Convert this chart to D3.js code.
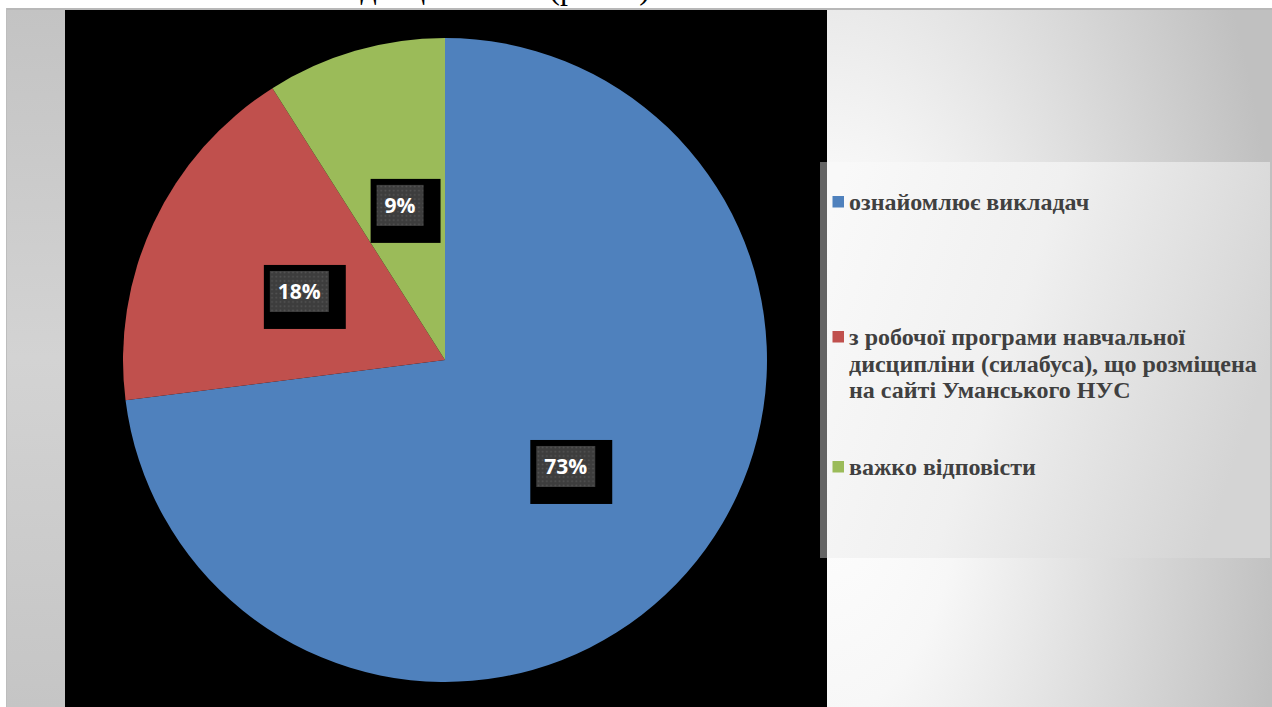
<!DOCTYPE html>
<html>
<head>
<meta charset="utf-8">
<script src="https://cdn.jsdelivr.net/npm/d3@7"></script>
<style>
  body { margin: 0; background: #fff; }
  svg { display: block; }
</style>
</head>
<body>
<script>
var w = 1272;
var h = 707;

// data
var categories = ["ознайомлює викладач",
                  "з робочої програми навчальної дисципліни (силабуса), що розміщена на сайті Уманського НУС",
                  "важко відповісти"];
var values = [73, 18, 9];
var colors = ["#4f81bd", "#c0504d", "#9bbb59"];
var titleText = "з дисципліною (рис. 3).";

var cx = 445, cy = 360, radius = 322;
var legendBase = [210, 345, 475];   // first-line baseline of each legend entry
var lineH = 26.5;
var legendFont = "24px";

var svg = d3.select("body").append("svg")
    .attr("width", w)
    .attr("height", h);

var defs = svg.append("defs");

// chart area fill: light near the plot edge, grey to the right
var bg = defs.append("radialGradient")
    .attr("id", "bg")
    .attr("gradientUnits", "userSpaceOnUse")
    .attr("cx", 827).attr("cy", 440).attr("r", 460)
    .attr("gradientTransform", "translate(827,440) scale(1,2) translate(-827,-440)");
bg.append("stop").attr("offset", "0%").attr("stop-color", "#ffffff");
bg.append("stop").attr("offset", "30%").attr("stop-color", "#f7f7f7");
bg.append("stop").attr("offset", "100%").attr("stop-color", "#c0c0c0");

var side = defs.append("linearGradient")
    .attr("id", "side")
    .attr("x1", 0).attr("y1", 0).attr("x2", 0).attr("y2", 1);
side.append("stop").attr("offset", "0%").attr("stop-color", "#c3c3c3");
side.append("stop").attr("offset", "50%").attr("stop-color", "#d3d3d3");
side.append("stop").attr("offset", "100%").attr("stop-color", "#c5c5c5");

var lg = defs.append("linearGradient")
    .attr("id", "lg")
    .attr("x1", 0).attr("y1", 0.2).attr("x2", 1).attr("y2", 0.5);
lg.append("stop").attr("offset", "0%").attr("stop-color", "#f9f9f9");
lg.append("stop").attr("offset", "45%").attr("stop-color", "#f0f0f0");
lg.append("stop").attr("offset", "100%").attr("stop-color", "#d4d4d4");

var dots = defs.append("pattern")
    .attr("id", "dots")
    .attr("patternUnits", "userSpaceOnUse")
    .attr("width", 4.2).attr("height", 4.2);
dots.append("rect").attr("width", 4.2).attr("height", 4.2).attr("fill", "#3d3d3d");
dots.append("circle").attr("cx", 2.1).attr("cy", 2.1).attr("r", 0.9).attr("fill", "#555");

// title (mostly hidden behind the chart)
svg.append("text")
    .attr("x", 658)
    .attr("y", -1)
    .attr("text-anchor", "end")
    .attr("font-family", "'Liberation Serif', 'Times New Roman', serif")
    .attr("font-size", "32px")
    .attr("fill", "#000")
    .text(titleText);

// chart area
svg.append("rect")
    .attr("x", 6).attr("y", 8)
    .attr("width", w - 6).attr("height", h - 8)
    .attr("fill", "url(#bg)");
svg.append("rect")
    .attr("x", 6).attr("y", 8)
    .attr("width", 60).attr("height", h - 8)
    .attr("fill", "url(#side)");
svg.append("line")
    .attr("x1", 6).attr("x2", w).attr("y1", 9).attr("y2", 9)
    .attr("stroke", "#b8b8b8").attr("stroke-width", 2);
svg.append("line")
    .attr("x1", 6.5).attr("x2", 6.5).attr("y1", 8).attr("y2", h)
    .attr("stroke", "#bdbdbd").attr("stroke-width", 1);

// plot area
svg.append("rect")
    .attr("x", 65).attr("y", 10)
    .attr("width", 762).attr("height", h - 10)
    .attr("fill", "#000");

var pie = d3.pie().sort(null).value(function(d) { return d; });
var arc = d3.arc().innerRadius(0).outerRadius(radius);
var arcs = pie(values);

var g = svg.append("g").attr("transform", "translate(" + cx + "," + cy + ")");

g.selectAll("path")
   .data(arcs)
   .enter()
   .append("path")
   .attr("d", arc)
   .attr("fill", function(d, i) { return colors[i]; });

// labels
var lab = g.selectAll("g.lab")
   .data(arcs)
   .enter()
   .append("g")
   .attr("class", "lab")
   .attr("transform", function(d) { return "translate(" + arc.centroid(d) + ")"; });

lab.each(function(d) {
    var el = d3.select(this);
    var t = el.append("text")
        .attr("text-anchor", "middle")
        .attr("dy", "0.36em")
        .attr("font-family", "'Open Sans', sans-serif")
        .attr("font-weight", "bold")
        .attr("font-size", "21px")
        .attr("fill", "#fff")
        .text(d.value + "%");
    var tw = t.node().getComputedTextLength();
    var bw = tw + 16, bh = 41;
    el.insert("rect", "text")
        .attr("x", -bw / 2 - 6).attr("y", -bh / 2 - 6)
        .attr("width", bw + 23).attr("height", bh + 23)
        .attr("fill", "#000");
    el.insert("rect", "text")
        .attr("x", -bw / 2).attr("y", -bh / 2)
        .attr("width", bw).attr("height", bh)
        .attr("fill", "url(#dots)");
});

// legend
svg.append("rect")
    .attr("x", 820).attr("y", 162)
    .attr("width", 450).attr("height", 396)
    .attr("fill", "url(#lg)");
svg.append("rect")
    .attr("x", 820).attr("y", 162)
    .attr("width", 7).attr("height", 396)
    .attr("fill", "#646464");

var legend = svg.selectAll("g.leg")
   .data(categories)
   .enter()
   .append("g")
   .attr("class", "leg");

legend.append("rect")
   .attr("x", 832.5)
   .attr("y", function(d, i) { return legendBase[i] - 14; })
   .attr("width", 11.5).attr("height", 11.5)
   .attr("fill", function(d, i) { return colors[i]; });

legend.each(function(d, i) {
    var el = d3.select(this);
    var words = d.split(" ");
    var lines = [], cur = "";
    var probe = el.append("text")
        .attr("font-family", "'Liberation Serif', 'Times New Roman', serif")
        .attr("font-weight", "bold")
        .attr("font-size", legendFont);
    words.forEach(function(wd) {
        var test = cur ? cur + " " + wd : wd;
        probe.text(test);
        if (probe.node().getComputedTextLength() > 415 && cur) {
            lines.push(cur);
            cur = wd;
        } else {
            cur = test;
        }
    });
    lines.push(cur);
    probe.remove();
    el.selectAll("text.l")
      .data(lines)
      .enter()
      .append("text")
      .attr("class", "l")
      .attr("x", 849)
      .attr("y", function(l, j) { return legendBase[i] + j * lineH; })
      .attr("font-family", "'Liberation Serif', 'Times New Roman', serif")
      .attr("font-weight", "bold")
      .attr("font-size", legendFont)
      .attr("fill", "#404040")
      .text(function(l) { return l; });
});
</script>
</body>
</html>
